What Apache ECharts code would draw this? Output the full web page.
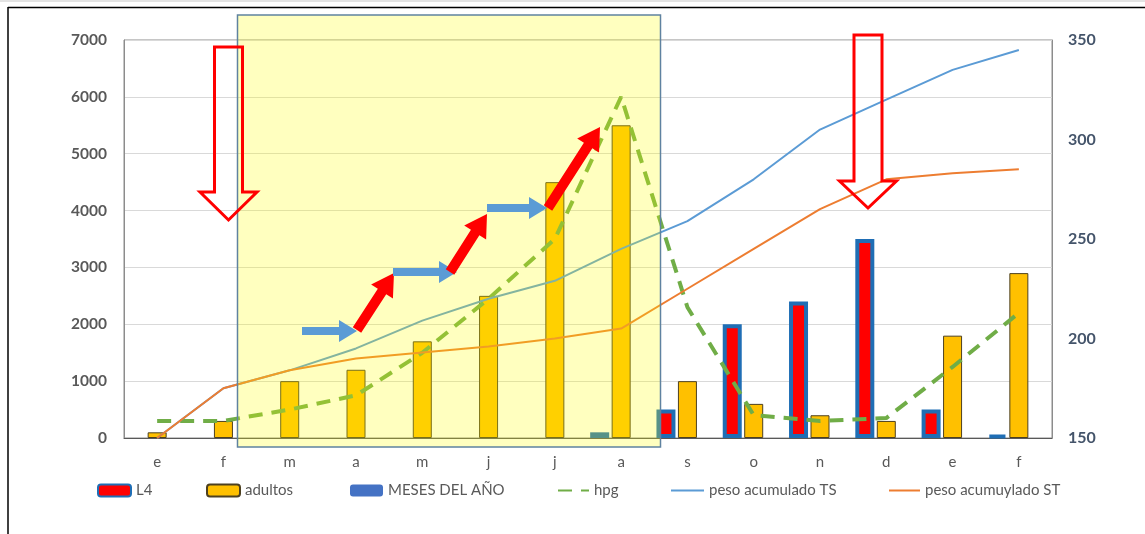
<!DOCTYPE html>
<html>
<head>
<meta charset="utf-8">
<script src="https://cdn.jsdelivr.net/npm/echarts@6/dist/echarts.min.js"></script>
<style>
  html, body { margin: 0; padding: 0; background: #ffffff; }
  #chart { width: 1145px; height: 534px; }
</style>
</head>
<body>
<div id="chart"></div>
<script>
// Months of the cycle (Spanish initials)
const categories = ['e', 'f', 'm', 'a', 'm', 'j', 'j', 'a', 's', 'o', 'n', 'd', 'e', 'f'];

// Left axis series
const l4 = [null, null, null, null, null, null, null, 100, 500, 2000, 2400, 3500, 500, 50];
const adultos = [100, 300, 1000, 1200, 1700, 2500, 4500, 5500, 1000, 600, 400, 300, 1800, 2900];
const mesesDelAno = [null, null, null, null, null, null, null, null, null, null, null, null, null, null];
const hpg = [300, 300, 500, 750, 1500, 2450, 3500, 6000, 2300, 400, 300, 350, 1250, 2200];

// Right axis series (accumulated weight)
const pesoTS = [150, 175, 184, 195, 209, 220, 229, 245, 259, 280, 305, 320, 335, 345];
const pesoST = [150, 175, 184, 190, 193, 196, 200, 205, 225, 245, 265, 280, 283, 285];

// Axis ticks
const leftAxis = { min: 0, max: 7000, interval: 1000 };
const rightAxis = { min: 150, max: 350, interval: 50 };

const FONT = 'Lato, "Liberation Sans", sans-serif';
const TEXT_GRAY = '#595959';

// Block arrow polygon from tail to tip
function blockArrow(x1, y1, x2, y2, shaft, head, headLen) {
  const dx = x2 - x1, dy = y2 - y1;
  const len = Math.hypot(dx, dy);
  const ux = dx / len, uy = dy / len;
  const nx = -uy, ny = ux;
  const bx = x2 - ux * headLen, by = y2 - uy * headLen;
  const s = shaft / 2, h = head / 2;
  return [
    [x1 + nx * s, y1 + ny * s],
    [bx + nx * s, by + ny * s],
    [bx + nx * h, by + ny * h],
    [x2, y2],
    [bx - nx * h, by - ny * h],
    [bx - nx * s, by - ny * s],
    [x1 - nx * s, y1 - ny * s]
  ];
}

function filledArrow(pts, color) {
  return { type: 'polygon', z: 60, shape: { points: pts }, style: { fill: color } };
}

function hollowArrow(pts) {
  return { type: 'polygon', z: 60, shape: { points: pts },
    style: { fill: null, stroke: '#FF0000', lineWidth: 3, lineJoin: 'miter' } };
}

// Downward hollow arrow: shaft from top, head base, tip
function downArrow(cx, top, shaftW, headY, headW, tipY) {
  const s = shaftW / 2, h = headW / 2;
  return [
    [cx - s, top], [cx + s, top], [cx + s, headY], [cx + h, headY],
    [cx, tipY], [cx - h, headY], [cx - s, headY]
  ];
}

const BLUE_ARROW = '#5B9BD5';
const RED_ARROW = '#FF0000';

const chart = echarts.init(document.getElementById('chart'), null, { renderer: 'canvas' });

const legendBase = {
  top: 483, padding: 0, itemWidth: 33, itemHeight: 12, itemGap: 0,
  textStyle: { color: TEXT_GRAY, fontSize: 15, fontFamily: FONT }
};
// line legends: plain stroke without marker
const lineLegend = { itemStyle: { opacity: 0 } };

chart.setOption({
  backgroundColor: '#ffffff',
  animation: false,
  textStyle: { fontFamily: FONT },
  grid: {
    left: 124, right: 93, top: 40, bottom: 96,
    show: true, borderColor: '#8C8C8C', borderWidth: 1
  },
  legend: [
    Object.assign({}, legendBase, { left: 97, data: ['L4'] }),
    Object.assign({}, legendBase, { left: 206, data: ['adultos'] }),
    Object.assign({}, legendBase, { left: 350, data: ['MESES DEL AÑO'] }),
    Object.assign({}, legendBase, lineLegend, { left: 557, itemWidth: 31, data: ['hpg'] }),
    Object.assign({}, legendBase, lineLegend, { left: 670, data: ['peso acumulado TS'] }),
    Object.assign({}, legendBase, lineLegend, { left: 888, itemWidth: 31, data: ['peso acumuylado ST'] })
  ],
  xAxis: {
    type: 'category',
    data: categories,
    boundaryGap: true,
    axisLine: { lineStyle: { color: '#595959', width: 1 } },
    axisTick: { show: false },
    axisLabel: { color: TEXT_GRAY, fontSize: 15, margin: 17, fontFamily: FONT }
  },
  yAxis: [
    {
      type: 'value',
      min: leftAxis.min, max: leftAxis.max, interval: leftAxis.interval,
      axisLine: { show: true, lineStyle: { color: '#8C8C8C' } },
      axisTick: { show: false },
      splitLine: { lineStyle: { color: '#D9D9D9', width: 1 } },
      axisLabel: {
        color: TEXT_GRAY, fontSize: 15.5, fontWeight: 'bold', margin: 17, fontFamily: FONT,
        formatter: v => String(v)
      }
    },
    {
      type: 'value',
      position: 'right',
      min: rightAxis.min, max: rightAxis.max, interval: rightAxis.interval,
      axisLine: { show: true, lineStyle: { color: '#8C8C8C' } },
      axisTick: { show: false },
      splitLine: { show: false },
      axisLabel: {
        color: '#44546A', fontSize: 16, fontWeight: 'bold', margin: 16, fontFamily: FONT,
        formatter: v => String(v)
      }
    }
  ],
  series: [
    {
      name: 'L4', type: 'bar', yAxisIndex: 0, data: l4,
      barWidth: 19, barGap: '13%',
      itemStyle: { color: '#FF0000', borderColor: '#1F6EB5', borderWidth: 4 }
    },
    {
      name: 'adultos', type: 'bar', yAxisIndex: 0, data: adultos,
      barWidth: 19, barGap: '13%',
      itemStyle: { color: '#FFC000', borderColor: '#4D4020', borderWidth: 1 }
    },
    {
      name: 'MESES DEL AÑO', type: 'bar', yAxisIndex: 0, data: mesesDelAno,
      barWidth: 19, barGap: '13%',
      itemStyle: { color: '#4472C4' }
    },
    {
      name: 'hpg', type: 'line', yAxisIndex: 0, data: hpg,
      showSymbol: false, symbol: 'none',
      itemStyle: { color: '#70AD47' },
      lineStyle: { color: '#70AD47', width: 4, type: [14, 9] }
    },
    {
      name: 'peso acumulado TS', type: 'line', yAxisIndex: 1, data: pesoTS,
      showSymbol: false, symbol: 'none',
      itemStyle: { color: '#5B9BD5' },
      lineStyle: { color: '#5B9BD5', width: 2 }
    },
    {
      name: 'peso acumuylado ST', type: 'line', yAxisIndex: 1, data: pesoST,
      showSymbol: false, symbol: 'none',
      itemStyle: { color: '#ED7D31' },
      lineStyle: { color: '#ED7D31', width: 2 }
    }
  ],
  graphic: [
    // page frame
    { type: 'rect', z: 70, shape: { x: 0, y: 0, width: 1145, height: 2 }, style: { fill: '#E3E3E3' } },
    { type: 'line', z: 70, shape: { x1: 8, y1: 7.5, x2: 1145, y2: 7.5 }, style: { stroke: '#000000', lineWidth: 1.5 } },
    { type: 'line', z: 70, shape: { x1: 8, y1: 7, x2: 8, y2: 534 }, style: { stroke: '#000000', lineWidth: 1.5 } },
    // highlighted period
    {
      type: 'rect', z: 50,
      shape: { x: 237.5, y: 15, width: 423, height: 432 },
      style: { fill: 'rgba(255,255,0,0.25)', stroke: '#5F82A0', lineWidth: 1.5 }
    },
    // step arrows
    filledArrow(blockArrow(302, 331, 357, 331, 8, 22, 18), BLUE_ARROW),
    filledArrow(blockArrow(357, 330, 394, 273, 10, 26, 22), RED_ARROW),
    filledArrow(blockArrow(393, 272, 457, 272, 8, 22, 18), BLUE_ARROW),
    filledArrow(blockArrow(450, 272, 487, 214, 10, 26, 22), RED_ARROW),
    filledArrow(blockArrow(487, 208, 547, 208, 8, 22, 18), BLUE_ARROW),
    filledArrow(blockArrow(548, 208, 600, 127, 10, 26, 22), RED_ARROW),
    // hollow down arrows
    hollowArrow(downArrow(228.5, 47, 28, 192, 57, 220)),
    hollowArrow(downArrow(868, 35, 28, 181, 57, 208))
  ]
});
</script>
</body>
</html>
